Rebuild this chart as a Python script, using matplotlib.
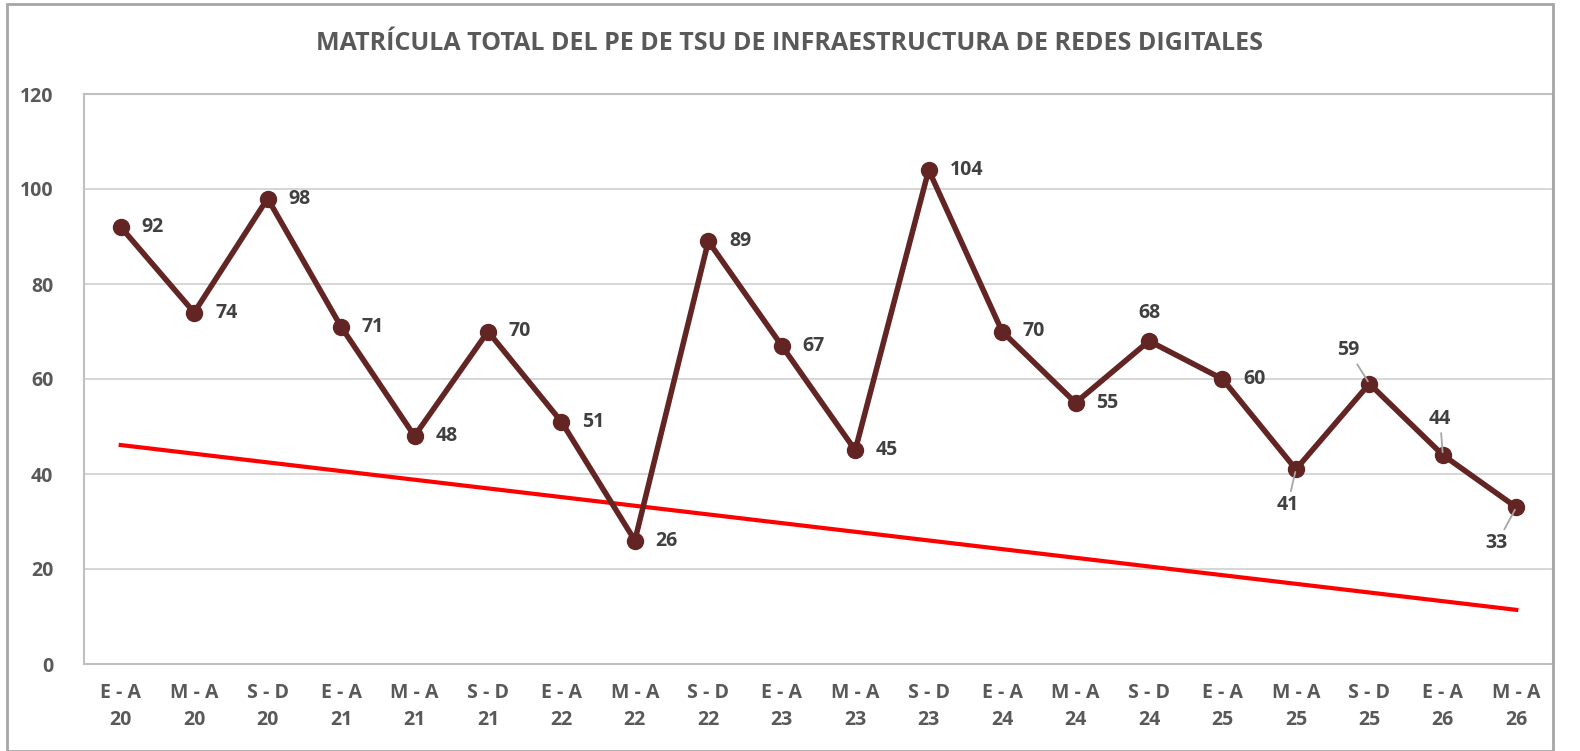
import matplotlib.pyplot as plt
from matplotlib.patches import Rectangle

plt.rcParams['font.family'] = ['Open Sans', 'DejaVu Sans']

# DATOS
periodos = ['E - A\n20', 'M - A\n20', 'S - D\n20',
            'E - A\n21', 'M - A\n21', 'S - D\n21',
            'E - A\n22', 'M - A\n22', 'S - D\n22',
            'E - A\n23', 'M - A\n23', 'S - D\n23',
            'E - A\n24', 'M - A\n24', 'S - D\n24',
            'E - A\n25', 'M - A\n25', 'S - D\n25',
            'E - A\n26', 'M - A\n26']
matricula = [92, 74, 98, 71, 48, 70, 51, 26, 89, 67,
             45, 104, 70, 55, 68, 60, 41, 59, 44, 33]
# linea de tendencia (extremos)
tendencia = [46.1, 11.4]

# posicion de cada etiqueta: desplazamiento en puntos y si lleva linea guia
pos_etiqueta = {14: (0, 20, False), 16: (-6, -26, True), 17: (-15, 24, True),
                18: (-2, 26, True), 19: (-14, -26, True)}

GRIS = '#595959'
VINO = '#632523'

fig = plt.figure(figsize=(15.8, 7.51), dpi=100)
fig.patches.append(Rectangle((7 / 1580, 0), 1546 / 1580, 747 / 751, transform=fig.transFigure,
                             fill=False, edgecolor='#a6a6a6', linewidth=2))
ax = fig.add_axes([84 / 1580, 87 / 751, 1469 / 1580, 570 / 751])

x = list(range(len(matricula)))
ax.plot(x, matricula, color=VINO, linewidth=4, marker='o', markersize=11.5, zorder=3)
ax.plot([x[0], x[-1]], tendencia, color='#ff0000', linewidth=3, zorder=2)

for i, v in enumerate(matricula):
    dx, dy, guia = pos_etiqueta.get(i, (15, 0, False))
    ha = 'left' if i not in pos_etiqueta else 'center'
    props = dict(arrowstyle='-', color='#a6a6a6', linewidth=1.3, shrinkA=1, shrinkB=2) if guia else None
    ax.annotate(str(v), (i, v), xytext=(dx, dy), textcoords='offset points',
                ha=ha, va='center', fontsize=14, fontweight='bold', color='#404040',
                arrowprops=props, zorder=4)

ax.set_xlim(-0.5, len(matricula) - 0.5)
ax.set_ylim(0, 120)
ax.set_yticks(range(0, 121, 20))
ax.set_xticks(x)
ax.set_xticklabels(periodos, linespacing=1.45)
ax.tick_params(axis='both', length=0, labelsize=14, colors=GRIS)
for lbl in ax.get_xticklabels() + ax.get_yticklabels():
    lbl.set_fontweight('bold')
ax.tick_params(axis='x', pad=14)
ax.tick_params(axis='y', pad=22)
ax.grid(axis='y', color='#d0d0d0', linewidth=1.2)
ax.set_axisbelow(True)
for s in ax.spines.values():
    s.set_color('#bfbfbf')
    s.set_linewidth(1.5)

fig.text(790 / 1580, 1 - 44 / 751, 'MATRÍCULA TOTAL DEL PE DE TSU DE INFRAESTRUCTURA DE REDES DIGITALES',
         ha='center', va='center', fontsize=18, fontweight='bold', color=GRIS)

fig.savefig('out.png', dpi=100)
